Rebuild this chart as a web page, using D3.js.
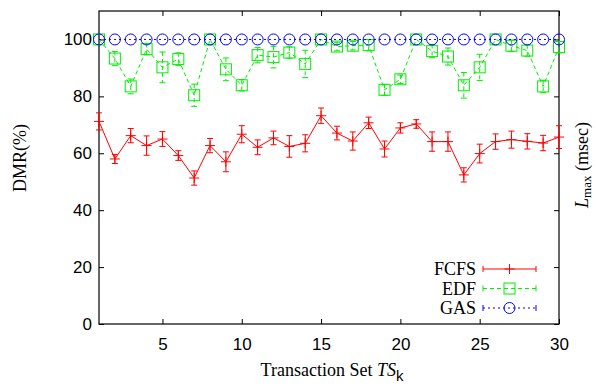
<!DOCTYPE html>
<html>
<head>
<meta charset="utf-8">
<script src="https://cdn.jsdelivr.net/npm/d3@7"></script>
<style>
  body { margin: 0; background: #fff; }
  .tick text { font-family: "Liberation Sans", Arial, sans-serif; font-size: 17px; fill: #000; }
  .tick line { stroke: #000; }
  .domain { display: none; }
  .lbl { font-family: "Liberation Serif", "Times New Roman", serif; font-size: 18px; fill: #000; }
</style>
</head>
<body>
<svg width="596" height="390"></svg>
<script>
// transaction sets TS_k
var sets = [1, 2, 3, 4, 5, 6, 7, 8, 9, 10, 11, 12, 13, 14, 15, 16, 17, 18, 19, 20, 21, 22, 23, 24, 25, 26, 27, 28, 29, 30];
var fcfs = [71.2, 58.0, 66.2, 62.7, 65.0, 59.2, 51.3, 62.7, 57.0, 66.7, 62.1, 65.4, 62.4, 63.5, 73.2,
            67.1, 64.3, 70.7, 61.5, 68.9, 70.3, 64.1, 64.1, 52.4, 59.9, 64.1, 64.8, 64.2, 63.6, 65.7];
var fcfsErr = [3.0, 1.6, 2.5, 3.4, 2.6, 1.7, 2.5, 2.5, 3.5, 3.0, 2.6, 2.4, 3.8, 3.0, 2.7,
               2.4, 3.2, 2.0, 2.8, 1.8, 1.5, 3.4, 3.4, 2.5, 3.3, 2.7, 3.0, 2.7, 2.7, 4.0];
var edf = [100, 93.3, 83.5, 96.6, 90.2, 93.1, 80.4, 100, 89.5, 83.9, 94.5, 93.8, 95.4, 91.4, 100,
           97.5, 97.8, 98.0, 82.3, 86.0, 100, 95.9, 94.0, 83.9, 90.2, 100, 97.8, 96.1, 83.5, 97.3];
var edfErr = [0, 2.5, 2.6, 2.0, 5.4, 2.2, 3.9, 0, 4.0, 2.0, 2.7, 3.8, 2.0, 4.8, 0,
              1.5, 1.5, 2.0, 1.9, 1.5, 0, 2.3, 3.0, 4.5, 4.6, 0, 2.0, 2.0, 2.2, 2.0];
var gas = [100, 100, 100, 100, 100, 100, 100, 100, 100, 100, 100, 100, 100, 100, 100,
           100, 100, 100, 100, 100, 100, 100, 100, 100, 100, 100, 100, 100, 100, 100];
var gasErr = [0, 0, 0, 0, 0, 0, 0, 0, 0, 0, 0, 0, 0, 0, 0,
              0, 0, 0, 0, 0, 0, 0, 0, 0, 0, 0, 0, 0, 0, 0];
var xTicks = [5, 10, 15, 20, 25, 30];
var yTicks = [0, 20, 40, 60, 80, 100];

var margin = {top: 11, right: 37, bottom: 66, left: 99},
    width = 596 - margin.left - margin.right,
    height = 390 - margin.top - margin.bottom;

var xScale = d3.scaleLinear().domain([1, 30]).range([0, width]);
var yScale = d3.scaleLinear().domain([0, 110]).range([height, 0]);

var svg = d3.select("svg").append("g")
    .attr("transform", "translate(" + margin.left + "," + margin.top + ")");

// axes, ticks pointing inward, mirrored on top/right
svg.append("g")
    .attr("transform", "translate(0," + height + ")")
    .call(d3.axisBottom(xScale).tickValues(xTicks).tickSize(-5).tickPadding(14));
svg.append("g")
    .call(d3.axisLeft(yScale).tickValues(yTicks).tickSize(-5).tickPadding(7));
svg.append("g")
    .call(d3.axisTop(xScale).tickValues(xTicks).tickSize(-5).tickFormat(""));
svg.append("g")
    .attr("transform", "translate(" + width + ",0)")
    .call(d3.axisRight(yScale).tickValues(yTicks).tickSize(-5).tickFormat(""));

svg.append("rect")
    .attr("width", width).attr("height", height)
    .attr("fill", "none").attr("stroke", "#000").attr("stroke-width", 1.2);

var series = [
    {name: "FCFS", vals: fcfs, err: fcfsErr, color: "#ff0000", dash: null, mark: "plus"},
    {name: "EDF", vals: edf, err: edfErr, color: "#00ee00", dash: "4,3", mark: "square"},
    {name: "GAS", vals: gas, err: gasErr, color: "#0000ff", dash: "2,3", mark: "circle"}
];

function drawMark(g, mark, color, cx, cy) {
    if (mark == "plus") {
        g.append("line").attr("x1", cx - 5).attr("x2", cx + 5).attr("y1", cy).attr("y2", cy)
            .attr("stroke", color);
        g.append("line").attr("x1", cx).attr("x2", cx).attr("y1", cy - 5).attr("y2", cy + 5)
            .attr("stroke", color);
    } else if (mark == "square") {
        g.append("rect").attr("x", cx - 5.5).attr("y", cy - 5.5).attr("width", 11).attr("height", 11)
            .attr("fill", "none").attr("stroke", color);
    } else {
        g.append("circle").attr("cx", cx).attr("cy", cy).attr("r", 5.5)
            .attr("fill", "none").attr("stroke", color);
    }
}

series.forEach(function(s) {
    var g = svg.append("g").attr("class", s.name);
    var pts = sets.map(function(k, i) { return {x: k, y: s.vals[i], e: s.err[i]}; });

    var line = d3.line()
        .x(function(d) { return xScale(d.x); })
        .y(function(d) { return yScale(d.y); });

    g.append("path")
        .datum(pts)
        .attr("d", line)
        .attr("fill", "none")
        .attr("stroke", s.color)
        .attr("stroke-dasharray", s.dash);

    // error bars
    pts.forEach(function(d) {
        if (d.e <= 0) return;
        var cx = xScale(d.x), y1 = yScale(d.y + d.e), y2 = yScale(d.y - d.e);
        g.append("line").attr("x1", cx).attr("x2", cx).attr("y1", y1).attr("y2", y2)
            .attr("stroke", s.color).attr("stroke-dasharray", s.dash);
        [y1, y2].forEach(function(yy) {
            g.append("line").attr("x1", cx - 3).attr("x2", cx + 3).attr("y1", yy).attr("y2", yy)
                .attr("stroke", s.color);
        });
    });

    pts.forEach(function(d) {
        drawMark(g, s.mark, s.color, xScale(d.x), yScale(d.y));
    });
});

// legend
var legend = svg.selectAll(".legend")
    .data(series)
    .enter().append("g")
    .attr("class", "legend")
    .attr("transform", function(d, i) {
        return "translate(0," + (258 + i * 19.5) + ")";
    });

legend.append("text")
    .attr("class", "lbl")
    .attr("x", 377)
    .attr("dy", "0.35em")
    .style("text-anchor", "end")
    .text(function(d) { return d.name; });

legend.each(function(d) {
    var g = d3.select(this);
    g.append("line").attr("x1", 384).attr("x2", 437).attr("y1", 0).attr("y2", 0)
        .attr("stroke", d.color).attr("stroke-dasharray", d.dash);
    [384, 437].forEach(function(xx) {
        g.append("line").attr("x1", xx).attr("x2", xx).attr("y1", -3).attr("y2", 3)
            .attr("stroke", d.color);
    });
    drawMark(g, d.mark, d.color, 410.5, 0);
});

// axis titles
var xt = d3.select("svg").append("text")
    .attr("class", "lbl")
    .attr("x", 332).attr("y", 376)
    .style("text-anchor", "middle");
xt.append("tspan").text("Transaction Set ");
xt.append("tspan").style("font-style", "italic").text("TS");
xt.append("tspan").attr("dy", 5)
    .style("font-family", "'Liberation Sans', Arial, sans-serif").style("font-size", "15px").text("k");

d3.select("svg").append("text")
    .attr("class", "lbl")
    .attr("transform", "translate(26,158) rotate(-90)")
    .style("text-anchor", "middle")
    .text("DMR(%)");

var yt = d3.select("svg").append("text")
    .attr("class", "lbl")
    .attr("transform", "translate(588,165) rotate(-90)")
    .style("text-anchor", "middle");
yt.append("tspan").style("font-style", "italic").text("L");
yt.append("tspan").attr("dy", 3).style("font-size", "13px").text("max");
yt.append("tspan").attr("dy", -3).text(" (msec)");
</script>
</body>
</html>
